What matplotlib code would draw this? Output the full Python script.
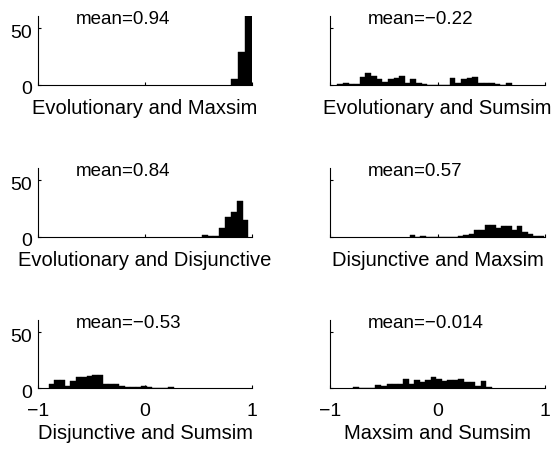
import matplotlib
matplotlib.use("Agg")
import matplotlib.pyplot as plt
from matplotlib.transforms import ScaledTranslation
import numpy as np

plt.rcParams['font.family'] = ['Liberation Sans', 'DejaVu Sans']

# histogram counts, left to right, with the x span they cover
evo_maxsim = [5, 29, 61]
evo_maxsim_span = (0.80, 1.0)
evo_sumsim = [1, 2, 1, 1, 7, 11, 8, 5, 3, 5, 6, 8, 2, 5, 2, 1, 0, 0, 0, 0,
              6, 2, 5, 6, 7, 2, 2, 2, 1, 0, 2]
evo_sumsim_span = (-0.932, 0.690)
evo_disj = [2, 1, 1, 8, 18, 22, 32, 15]
evo_disj_span = (0.530, 0.966)
disj_maxsim = [2, 0, 1, 0, 0, 0, 0, 0, 0, 1, 2, 3, 6, 6, 11, 11, 8, 10, 10, 6,
               10, 4, 3, 1, 1]
disj_maxsim_span = (-0.26, 0.99)
disj_sumsim = [4, 7, 7, 2, 6, 10, 10, 11, 12, 12, 4, 4, 4, 2, 1, 1, 1, 2, 1,
               0, 0, 0, 1]
disj_sumsim_span = (-0.90, 0.268)
max_sumsim = [1, 0, 0, 0, 3, 2, 4, 4, 4, 8, 4, 7, 5, 7, 10, 8, 6, 7, 7, 8,
              5, 5, 2, 6, 1]
max_sumsim_span = (-0.783, 0.504)

pair_names = ['Evolutionary and Maxsim', 'Evolutionary and Sumsim',
              'Evolutionary and Disjunctive', 'Disjunctive and Maxsim',
              'Disjunctive and Sumsim', 'Maxsim and Sumsim']
mean_texts = ['mean=0.94', 'mean=\u22120.22', 'mean=0.84', 'mean=0.57',
              'mean=\u22120.53', 'mean=\u22120.014']
all_counts = [evo_maxsim, evo_sumsim, evo_disj, disj_maxsim, disj_sumsim, max_sumsim]
all_spans = [evo_maxsim_span, evo_sumsim_span, evo_disj_span, disj_maxsim_span,
             disj_sumsim_span, max_sumsim_span]

fig = plt.figure(figsize=(5.6, 4.51), dpi=100)

W, H = 560.0, 451.0
col_x = [(38, 214), (330, 215)]
row_y = [(16, 85), (168, 237), (320, 388)]

# matlab puts the y tick labels a little below the tick
shift_down = ScaledTranslation(0, -3 / 100, fig.dpi_scale_trans)

for i in range(6):
    r, c = divmod(i, 2)
    x0, w = col_x[c]
    top, bot = row_y[r]
    ax = fig.add_axes([x0 / W, 1 - bot / H, w / W, (bot - top) / H])

    counts = all_counts[i]
    lo, hi = all_spans[i]
    edges = np.linspace(lo, hi, len(counts) + 1)
    ax.bar(edges[:-1], counts, width=np.diff(edges), align='edge',
           color='black', edgecolor='black', linewidth=0.3)

    ax.set_xlim(-1, 1)
    ax.set_ylim(0, 61)
    ax.set_xticks([-1, 0, 1])
    ax.set_yticks([0, 50])
    for s in ['top', 'right']:
        ax.spines[s].set_visible(False)
    for s in ['left', 'bottom']:
        ax.spines[s].set_linewidth(0.8)
    ax.tick_params(direction='in', length=2.5, width=0.8, labelsize=14)
    ax.tick_params(axis='y', pad=4.5)
    ax.tick_params(axis='x', pad=10.5)
    if r < 2:
        ax.tick_params(labelbottom=False)
    if c == 1:
        ax.tick_params(labelleft=False)
    for lab in ax.get_yticklabels():
        lab.set_transform(lab.get_transform() + shift_down)

    ax.text(-0.65, 58, mean_texts[i], ha='left', va='center', fontsize=13.5)
    ax.set_xlabel(pair_names[i], fontsize=14.5, labelpad=10 if r < 2 else 3.5)

fig.savefig('out.png', dpi=100)
